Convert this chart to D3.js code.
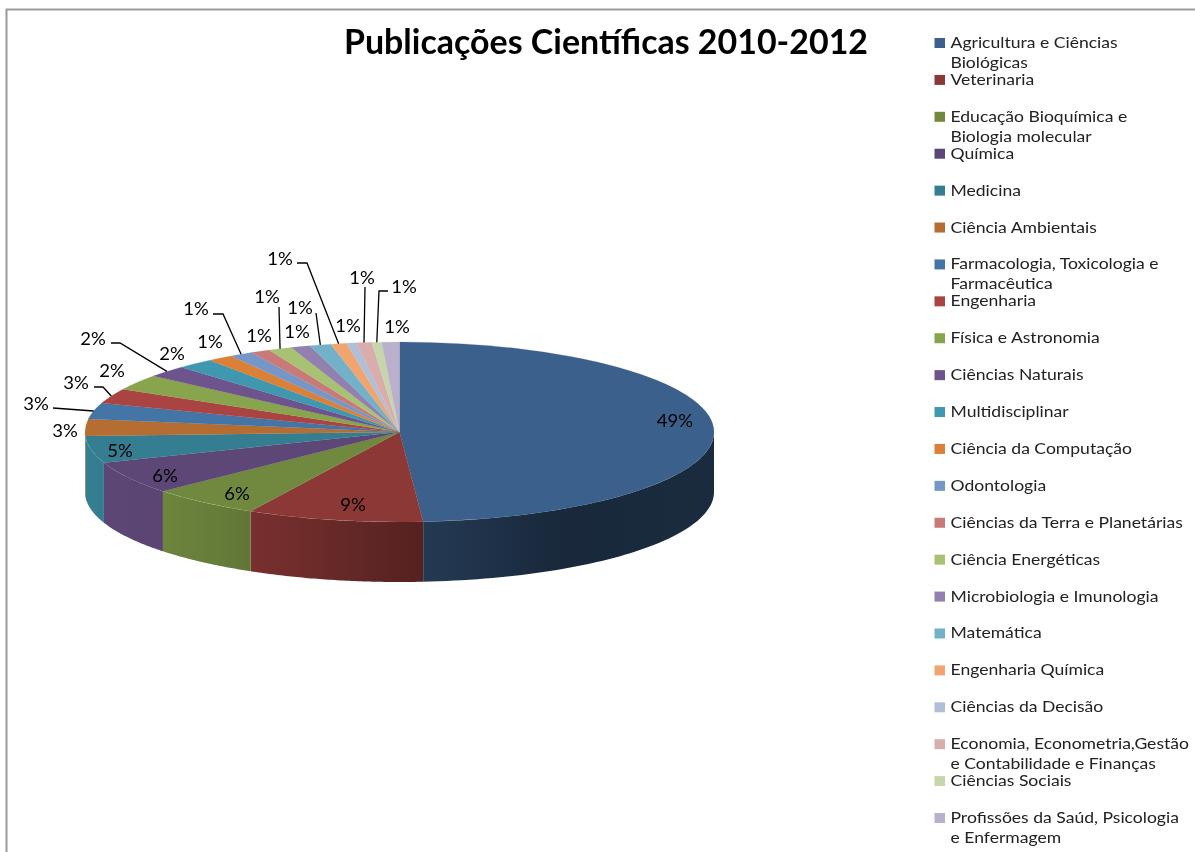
<!DOCTYPE html>
<html><head><meta charset="utf-8">
<script src="https://cdn.jsdelivr.net/npm/d3@7/dist/d3.min.js"></script>
<style>html,body{margin:0;padding:0;background:#fff}svg{display:block;filter:blur(.4px)}text{font-family:Lato,"Open Sans",sans-serif}</style>
</head><body><svg id="c" width="1195" height="852"></svg>
<script>
const title = "Publicações Científicas 2010-2012";
const categories = ["Agricultura e Ciências|Biológicas","Veterinaria","Educação Bioquímica e|Biologia molecular","Química","Medicina","Ciência Ambientais","Farmacologia, Toxicologia e|Farmacêutica","Engenharia","Física e Astronomia","Ciências Naturais","Multidisciplinar","Ciência da Computação","Odontologia","Ciências da Terra e Planetárias","Ciência Energéticas","Microbiologia e Imunologia","Matemática","Engenharia Química","Ciências da Decisão","Economia, Econometria,Gestão|e Contabilidade e Finanças","Ciências Sociais","Profissões da Saúd, Psicologia|e Enfermagem"];
const values = [48.8,9.05,5.7,5.9,4.85,3.0,2.9,2.7,2.8,2.1,1.9,1.3,1.2,1.0,1.2,1.0,1.1,0.8,0.5,0.8,0.5,0.9];
const valueLabels = ["49%","9%","6%","6%","5%","3%","3%","3%","2%","2%","2%","1%","1%","1%","1%","1%","1%","1%","1%","1%","1%","1%"];
const colors = ["#3B608C","#8C3836","#71893F","#5C4776","#357D91","#B66D31","#4475A7","#A94442","#88A44C","#6E548D","#3F97B0","#DA8137","#7696C8","#C77A78","#A8C274","#9280AE","#72B1C7","#F0A56F","#AFBFDA","#D9ADAC","#C6D6AC","#BBB0CC"];

// layout only
const cx=399.5, cy=432, rx=314.5, ry=90, depth=60;
const labelPos = [[675,421],[353,505],[237,494],[165,476],[120,451],[65,431],[36,404],[76,383],[112,371],[93,339],[172,354],[210,342],[196,309],[259,336],[267,297],[297,332],[300,308],[280,259],[348,326],[362,278],[404,287],[397,327]];
const leaderElbows = {6:[[53,408]],7:[[94,387],[103,387]],9:[[111,343],[120,343]],12:[[213,314],[223,314]],14:[[279,307]],16:[[316,313]],17:[[297,263],[307,263]],19:[[365,287]],20:[[388,291],[379,291]]};

const svg=d3.select("#c"), defs=svg.append("defs");
// frame
svg.append("path").attr("d","M6.5,852V9.5H1195").attr("fill","none").attr("stroke","#9a9a9a").attr("stroke-width",2);

const arcs=d3.pie().sort(null).value(d=>d)(values);
const ex=a=>cx+rx*Math.sin(a), ey=a=>cy-ry*Math.cos(a);
const shade=d3.scaleLinear().domain([85,163,251,424,560,714]).range([1,.97,.86,.6,.42,.45]).clamp(true);

const pie=svg.append("g");
// side wall
const HALF=Math.PI/2;
arcs.forEach((d,i)=>{
  const a0=Math.max(d.startAngle,HALF), a1=Math.min(d.endAngle,3*HALF);
  if(a1<=a0) return;
  const steps=d3.range(0,61).map(k=>a0+(a1-a0)*k/60);
  const pts=steps.map(a=>[ex(a),ey(a)]).concat(steps.slice().reverse().map(a=>[ex(a),ey(a)+depth]));
  const id="w"+i, xs=pts.map(p=>p[0]), x0=d3.min(xs), x1=d3.max(xs);
  const g=defs.append("linearGradient").attr("id",id).attr("gradientUnits","userSpaceOnUse").attr("x1",x0).attr("x2",x1).attr("y1",0).attr("y2",0);
  d3.range(0,9).forEach(k=>{const x=x0+(x1-x0)*k/8,c=d3.rgb(colors[i]),s=shade(x);
    g.append("stop").attr("offset",k/8).attr("stop-color",d3.rgb(c.r*s,c.g*s,c.b*s).formatHex());});
  pie.append("path").attr("d",d3.line()(pts)+"Z").attr("fill",`url(#${id})`);
});
// top face
const arc=d3.arc().innerRadius(0).outerRadius(rx);
pie.append("g").attr("transform",`translate(${cx},${cy}) scale(1,${ry/rx})`)
  .selectAll("path").data(arcs).join("path").attr("d",arc).attr("fill",(d,i)=>colors[i]).attr("stroke",(d,i)=>colors[i]).attr("stroke-width",.3);

// stretched text helper
function stretch(sel,f){sel.each(function(){const w=this.getComputedTextLength();
  d3.select(this).attr("textLength",w*f).attr("lengthAdjust","spacingAndGlyphs");});}

// leaders
arcs.forEach((d,i)=>{
  const el=leaderElbows[i]; if(!el) return;
  const m=(d.startAngle+d.endAngle)/2;
  svg.append("path").attr("d",d3.line()([...el,[ex(m),ey(m)]])).attr("fill","none").attr("stroke","#000").attr("stroke-width",1.3);
});
// value labels
svg.append("g").selectAll("text").data(valueLabels).join("text")
  .attr("x",(d,i)=>labelPos[i][0]).attr("y",(d,i)=>labelPos[i][1]+6)
  .attr("text-anchor","middle").attr("font-size",16.5).attr("fill","#000").text(d=>d)
  .call(stretch,1.12);

// title
svg.append("text").attr("x",344).attr("y",54).attr("font-size",34).attr("font-weight",700).attr("fill","#000").text(title)
  .each(function(){d3.select(this).attr("textLength",524).attr("lengthAdjust","spacingAndGlyphs");});

// legend
const ly=d3.scalePoint().domain(d3.range(categories.length)).range([43,818]);
const leg=svg.append("g");
categories.forEach((c,i)=>{
  const y=ly(i);
  leg.append("rect").attr("x",934.5).attr("y",y-5).attr("width",10.5).attr("height",10).attr("fill",colors[i]);
  c.split("|").forEach((t,k)=>{
    leg.append("text").attr("x",950.5).attr("y",y+5+k*20).attr("font-size",15).attr("fill","#222").text(t).call(stretch,1.17);
  });
});
</script></body></html>
